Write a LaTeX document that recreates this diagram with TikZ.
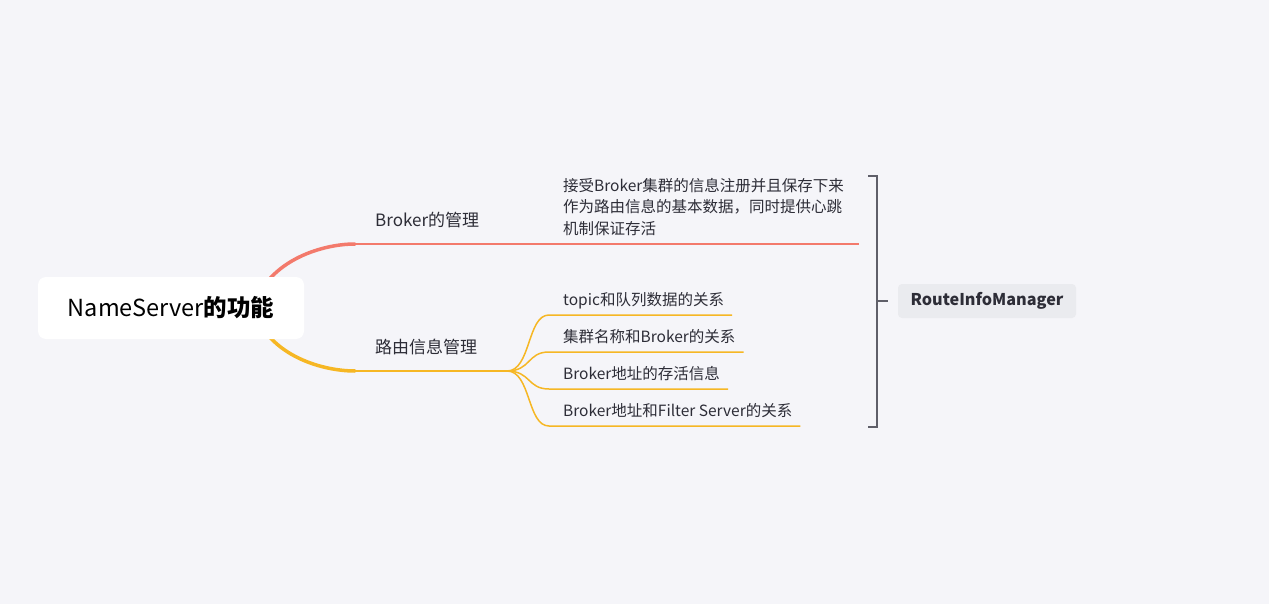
\documentclass[tikz,border=0pt]{standalone}
\usepackage{fontspec}
\setmainfont{Noto Sans CJK SC}
\usetikzlibrary{positioning, backgrounds, calc}

\definecolor{bgcol}{RGB}{245,245,249}
\definecolor{redbr}{RGB}{243,122,108}
\definecolor{yelbr}{RGB}{246,183,36}
\definecolor{brk}{RGB}{95,95,105}
\definecolor{rimfill}{RGB}{234,235,239}
\definecolor{txt}{RGB}{45,45,55}

\begin{document}
\begin{tikzpicture}[
  x=1pt, y=-1pt,
  % --- node styles ---
  rootbox/.style={
    fill=white, rounded corners=8pt,
    minimum width=266pt, minimum height=62pt,
    font=\fontsize{23.5}{28}\selectfont, text=black
  },
  child/.style={
    anchor=base west, inner sep=0pt,
    font=\fontsize{17}{20}\selectfont, text=txt
  },
  leaf/.style={
    anchor=base west, inner sep=0pt,
    font=\fontsize{15.5}{21.5}\selectfont, text=txt
  },
  sumbox/.style={
    fill=rimfill, rounded corners=4pt,
    minimum width=178pt, minimum height=34pt,
    font=\fontsize{16.2}{20}\selectfont\bfseries, text=txt
  },
  thickbr/.style={line width=3.5pt, line cap=round},
  thinbr/.style={line width=1.6pt},
  brace/.style={draw=brk, line width=1.8pt},
]

% ══════════════════════════════════════════════
% NODES
% ══════════════════════════════════════════════

\node[rootbox] (root) at (171,308) {NameServer\textbf{的功能}};

\node[child] (broker) at (375,227) {Broker的管理};
\node[child] (route) at (375,353) {路由信息管理};

\node[leaf, anchor=north west, align=left] (reg) at (563,178)
  {接受Broker集群的信息注册并且保存下来\\
   作为路由信息的基本数据，同时提供心跳\\
   机制保证存活};

\node[leaf] (topic) at (563,305) {topic和队列数据的关系};
\node[leaf] (cluster) at (563,342) {集群名称和Broker的关系};
\node[leaf] (alive) at (563,379) {Broker地址的存活信息};
\node[leaf] (filter) at (563,416) {Broker地址和Filter Server的关系};

\node[sumbox] (rim) at (987,301) {RouteInfoManager};

% ══════════════════════════════════════════════
% CANVAS + BRANCHES (behind the root box)
% ══════════════════════════════════════════════

\begin{scope}[on background layer]
  \fill[bgcol] (0,0) rectangle (1269,604);

  % Broker branch
  \draw[redbr, thickbr] ([xshift=-52pt,yshift=-4pt]root.east)
    .. controls +(12,-50) and +(-35,0) .. ([xshift=-20pt,yshift=-17pt]broker.base west);
  \draw[redbr, thinbr] ([xshift=-20pt,yshift=-17pt]broker.base west)
    -- ([xshift=15pt,yshift=-17pt]broker.base west -| reg.east) coordinate (regend);

  % route branch
  \draw[yelbr, thickbr] ([xshift=-52pt,yshift=4pt]root.east)
    .. controls +(12,50) and +(-35,0) .. ([xshift=-20pt,yshift=-18pt]route.base west);
  \draw[yelbr, thinbr] ([xshift=-20pt,yshift=-18pt]route.base west)
    -- ([xshift=132pt,yshift=-18pt]route.base west) coordinate (fork);
\end{scope}
\useasboundingbox (0,0) rectangle (1269,604);

% ══════════════════════════════════════════════
% LEAVES
% ══════════════════════════════════════════════

\foreach \lf in {topic, cluster, alive, filter} {
  \draw[yelbr, line width=1.5pt] (fork)
    .. controls +(24,0) and +(-22,0) .. ([xshift=-14pt,yshift=-10pt]\lf.base west)
    -- ([xshift=8pt,yshift=-10pt]\lf.base east);
}

% ══════════════════════════════════════════════
% SUMMARY BRACKET
% ══════════════════════════════════════════════

\draw[brace] (868,176) -- (877,176) -- (877,427) -- (868,427);
\draw[brace] (877,301) -- ([xshift=-10pt]rim.west);

\end{tikzpicture}
\end{document}
